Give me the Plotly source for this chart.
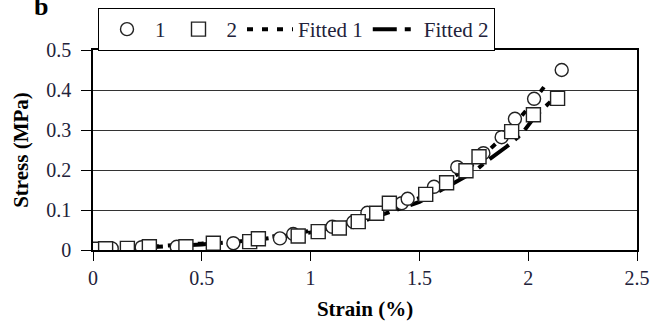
import plotly.graph_objects as go

# Series 1 (circles)
s1_x = [0.0, 0.086, 0.224, 0.385, 0.645, 0.859, 0.92, 1.10, 1.196, 1.261, 1.419, 1.446, 1.567, 1.674, 1.794, 1.878, 1.939, 2.027, 2.154]
s1_y = [0.0, 0.004, 0.007, 0.008, 0.017, 0.029, 0.040, 0.058, 0.070, 0.093, 0.117, 0.128, 0.158, 0.207, 0.242, 0.282, 0.328, 0.378, 0.450]

# Series 2 (squares)
s2_x = [0.0, 0.058, 0.158, 0.259, 0.427, 0.553, 0.72, 0.76, 0.943, 1.035, 1.132, 1.219, 1.304, 1.362, 1.529, 1.625, 1.714, 1.774, 1.924, 2.024, 2.135]
s2_y = [0.002, 0.003, 0.004, 0.008, 0.008, 0.017, 0.021, 0.028, 0.035, 0.046, 0.055, 0.071, 0.092, 0.117, 0.139, 0.168, 0.198, 0.233, 0.296, 0.338, 0.379]

# Fitted curves (read at a handful of strains)
f1_x = [0.0, 0.25, 0.5, 0.75, 1.0, 1.25, 1.5, 1.75, 1.9, 2.0, 2.09]
f1_y = [0.0, 0.008, 0.016, 0.028, 0.048, 0.080, 0.130, 0.215, 0.290, 0.355, 0.420]
f2_x = [0.0, 0.25, 0.5, 0.75, 1.0, 1.25, 1.5, 1.75, 1.8, 1.9, 1.97, 2.03, 2.13]
f2_y = [0.0, 0.007, 0.014, 0.025, 0.044, 0.074, 0.120, 0.195, 0.218, 0.258, 0.290, 0.333, 0.385]

x_ticks = [0, 0.5, 1, 1.5, 2, 2.5]
x_tick_labels = ["0", "0.5", "1", "1.5", "2", "2.5"]
y_ticks = [0, 0.1, 0.2, 0.3, 0.4, 0.5]
y_tick_labels = ["0", "0.1", "0.2", "0.3", "0.4", "0.5"]

FONT = "Liberation Serif"
TICK_COLOR = "#22223a"

fig = go.Figure()
fig.add_trace(go.Scatter(x=f1_x, y=f1_y, mode="lines", name="Fitted 1",
                         line=dict(color="black", width=4, dash="6px,9px"),
                         legendrank=3))
fig.add_trace(go.Scatter(x=f2_x, y=f2_y, mode="lines", name="Fitted 2",
                         line=dict(color="black", width=4, dash="24px,8px,6px,8px"),
                         legendrank=4))
fig.add_trace(go.Scatter(x=s1_x, y=s1_y, mode="markers", name="1",
                         marker=dict(symbol="circle", size=13, color="white",
                                     line=dict(color="#222", width=1.4)),
                         legendrank=1))
fig.add_trace(go.Scatter(x=s2_x, y=s2_y, mode="markers", name="2",
                         marker=dict(symbol="square", size=14, color="white",
                                     line=dict(color="#222", width=1.4)),
                         legendrank=2))

fig.add_annotation(text="<b>b</b>", x=(41 - 93) / 544, y=(250 - 6) / 200,
                   xref="paper", yref="paper", xanchor="center", yanchor="middle",
                   showarrow=False, font=dict(family=FONT, size=26, color="black"))

fig.update_layout(
    width=653, height=323,
    margin=dict(l=93, r=16, t=50, b=73, autoexpand=False),
    paper_bgcolor="white", plot_bgcolor="white",
    font=dict(family=FONT, size=20, color=TICK_COLOR),
    showlegend=True,
    legend=dict(orientation="h", x=98 / 653, xanchor="left",
                y=1 - 8 / 323, yanchor="top", yref="container", xref="container",
                bordercolor="black", borderwidth=1, bgcolor="white",
                font=dict(family=FONT, size=21, color=TICK_COLOR),
                itemwidth=46, tracegroupgap=0),
    xaxis=dict(range=[0, 2.5], tickvals=x_ticks, ticktext=x_tick_labels,
               showgrid=False, zeroline=False, showline=True, linecolor="black",
               linewidth=1.5, mirror=True, ticks="outside", ticklen=9,
               tickcolor="black", tickwidth=1.2, automargin=False,
               ticklabeloverflow="allow",
               title=dict(text="<b>Strain (%)</b>", font=dict(family=FONT, size=21, color="black"),
                          standoff=14),
               tickfont=dict(family=FONT, size=20, color=TICK_COLOR)),
    yaxis=dict(range=[0, 0.5], tickvals=y_ticks, ticktext=y_tick_labels,
               showgrid=True, gridcolor="#333", gridwidth=1.2,
               zeroline=False, showline=True, linecolor="black", linewidth=1.5,
               mirror=True, ticks="outside", ticklen=10, tickcolor="black", tickwidth=1.2,
               automargin=False, ticklabelstandoff=6, ticklabeloverflow="allow",
               title=dict(text="<b>Stress (MPa)</b>", font=dict(family=FONT, size=21, color="black"),
                          standoff=12),
               tickfont=dict(family=FONT, size=20, color=TICK_COLOR)),
)

fig.write_html("out.html", config={"displayModeBar": False},
               post_script="document.body.style.margin='0';")
